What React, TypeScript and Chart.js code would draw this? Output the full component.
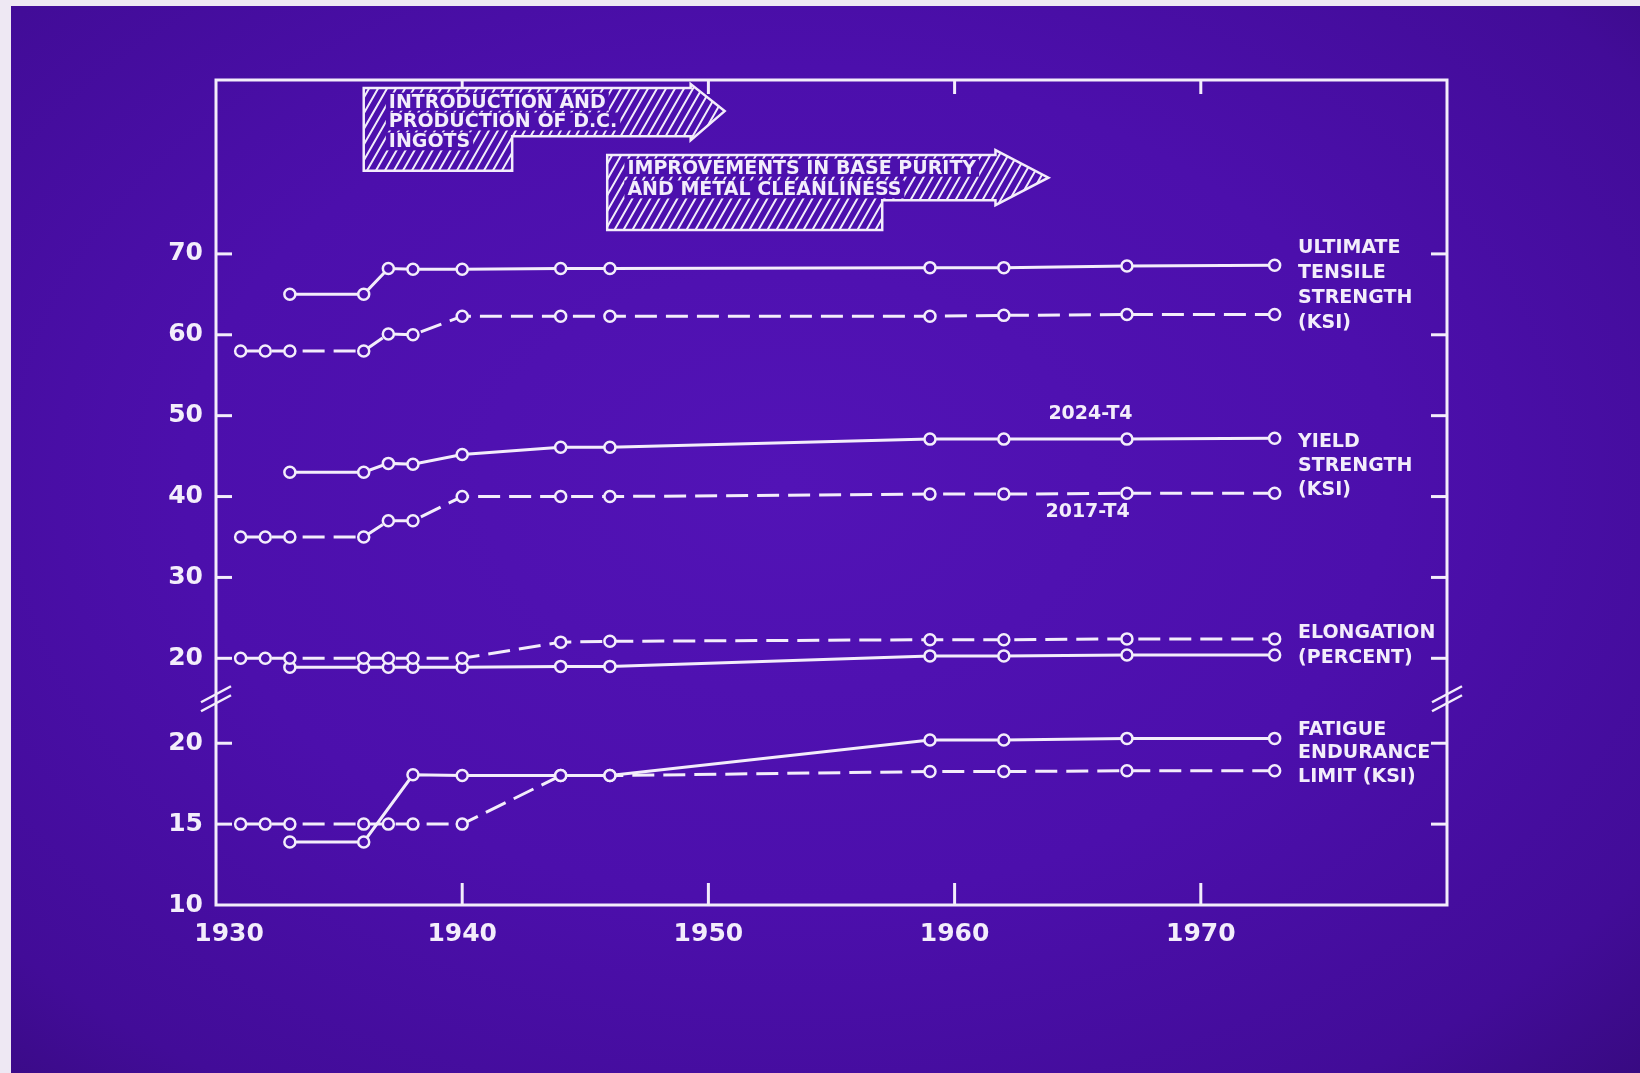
import React, { useEffect, useRef } from 'react';
import { Chart, registerables } from 'chart.js';

Chart.register(...registerables);

// ---------------- data ----------------
const YEARS_2017 = [1931, 1932, 1933, 1936, 1937, 1938, 1940, 1944, 1946, 1959, 1962, 1967, 1973];
const YEARS_2024 = [1933, 1936, 1937, 1938, 1940, 1944, 1946, 1959, 1962, 1967, 1973];
const YEARS_FATIGUE_2024 = [1933, 1936, 1938, 1940, 1944, 1946, 1959, 1962, 1967, 1973];

const UTS_2024 = [65, 65, 68.2, 68.1, 68.1, 68.2, 68.2, 68.3, 68.3, 68.5, 68.6];
const UTS_2017 = [58, 58, 58, 58, 60.1, 60, 62.3, 62.3, 62.3, 62.3, 62.4, 62.5, 62.5];
const YS_2024 = [43, 43, 44.1, 44, 45.2, 46.1, 46.1, 47.1, 47.1, 47.1, 47.2];
const YS_2017 = [35, 35, 35, 35, 37, 37, 40, 40, 40, 40.3, 40.3, 40.4, 40.4];
const ELONG_2024 = [18.9, 18.9, 18.9, 18.9, 18.9, 19, 19, 20.3, 20.3, 20.4, 20.4];
const ELONG_2017 = [20, 20, 20, 20, 20, 20, 20, 22, 22.1, 22.3, 22.3, 22.4, 22.4];
const FATIGUE_2024 = [13.9, 13.9, 18.05, 18, 18, 18, 20.2, 20.2, 20.3, 20.3];
const FATIGUE_2017 = [15, 15, 15, 15, 15, 15, 15, 18, 18, 18.25, 18.25, 18.3, 18.3];

const X_TICKS = [1930, 1940, 1950, 1960, 1970];
const Y_TICKS_UPPER = [20, 30, 40, 50, 60, 70];
const Y_TICKS_LOWER = [10, 15, 20];

const RIGHT_LABELS = [
  ['ULTIMATE', 'TENSILE', 'STRENGTH', '(KSI)'],
  ['YIELD', 'STRENGTH', '(KSI)'],
  ['ELONGATION', '(PERCENT)'],
  ['FATIGUE', 'ENDURANCE', 'LIMIT (KSI)'],
];
const ALLOY_LABELS = ['2024-T4', '2017-T4'];
const ARROW_TEXTS = [
  ['INTRODUCTION AND', 'PRODUCTION OF D.C.', 'INGOTS'],
  ['IMPROVEMENTS IN BASE PURITY', 'AND METAL CLEANLINESS'],
];

// ---------------- broken-axis mapping ----------------
// lower panel (fatigue): virtual = (real - 10) * 2 ; upper panel: virtual = real + 10.5
const UPPER_OFFSET = 10.5;
const LOWER_BASE = 10;
const LOWER_FACTOR = 2;
const BREAK_V = 25.5;
const Y_MAX_V = 102;
const upperV = (v: number) => v + UPPER_OFFSET;
const lowerV = (v: number) => (v - LOWER_BASE) * LOWER_FACTOR;

const INK = '#f3edfb';
const BG = '#4c10ad';
const FONT = "'DejaVu Sans', 'Noto Sans', sans-serif";

const toPts = (xs: number[], ys: number[], f: (v: number) => number) =>
  xs.map((x, i) => ({ x, y: f(ys[i]) }));

// annotation placement in data units (years / virtual y)
const ARROWS = [
  { left: 1936.0, rectRight: 1942.03, headBase: 1949.28, tip: 1950.66, top: 101.0, shaftBottom: 95.05, rectBottom: 90.79, headTop: 101.5, headBottom: 94.56, tipY: 98.15, textX: 1937.02, textY: [99.32, 96.87, 94.41] },
  { left: 1945.89, rectRight: 1957.06, headBase: 1961.66, tip: 1963.81, top: 92.73, shaftBottom: 87.14, rectBottom: 83.44, headTop: 93.33, headBottom: 86.53, tipY: 89.93, textX: 1946.71, textY: [91.16, 88.47] },
];
const RIGHT_LABEL_POS = [
  { v: 81.21, gap: 25 },
  { v: 57.29, gap: 24 },
  { v: 33.68, gap: 25 },
  { v: 21.63, gap: 23.5 },
];
const RIGHT_LABEL_X = 1973.95;
const ALLOY_POS = [
  { x: 1963.81, v: 60.69 },
  { x: 1963.69, v: 48.58 },
];

const decorPlugin = {
  id: 'decor',
  beforeDatasetsDraw(chart: any) {
    const { ctx, chartArea: a, scales } = chart;
    const x = scales.x, y = scales.y;
    ctx.save();
    ctx.strokeStyle = INK;
    ctx.lineWidth = 3;
    const line = (x1: number, y1: number, x2: number, y2: number) => {
      ctx.beginPath(); ctx.moveTo(x1, y1); ctx.lineTo(x2, y2); ctx.stroke();
    };
    ctx.strokeRect(a.left, a.top, a.right - a.left, a.bottom - a.top);
    for (const t of y.ticks) {
      if (t.value === 0) continue;
      const py = y.getPixelForValue(t.value);
      line(a.left, py, a.left + 16, py);
      line(a.right, py, a.right - 16, py);
    }
    for (const t of x.ticks) {
      if (t.value <= 1930 || t.value >= 1980) continue;
      const px = x.getPixelForValue(t.value);
      line(px, a.bottom, px, a.bottom - 22);
      line(px, a.top, px, a.top + 14);
    }
    const by = y.getPixelForValue(BREAK_V);
    ctx.lineWidth = 2.5;
    for (const bx of [a.left, a.right]) {
      for (const off of [-4.5, 4.5]) {
        line(bx - 15, by + off + 8, bx + 15, by + off - 8);
      }
    }
    ctx.restore();
  },
  afterDraw(chart: any) {
    const { ctx, scales } = chart;
    const x = scales.x, y = scales.y;
    const X = (v: number) => x.getPixelForValue(v);
    const Y = (v: number) => y.getPixelForValue(v);
    ctx.save();
    ctx.font = `bold 19px ${FONT}`;
    ctx.textBaseline = 'middle';
    ctx.textAlign = 'left';

    ARROWS.forEach((ar, i) => {
      const pts = [
        [X(ar.left), Y(ar.top)], [X(ar.headBase), Y(ar.top)], [X(ar.headBase), Y(ar.headTop)],
        [X(ar.tip), Y(ar.tipY)], [X(ar.headBase), Y(ar.headBottom)], [X(ar.headBase), Y(ar.shaftBottom)],
        [X(ar.rectRight), Y(ar.shaftBottom)], [X(ar.rectRight), Y(ar.rectBottom)], [X(ar.left), Y(ar.rectBottom)],
      ];
      const path = () => {
        ctx.beginPath();
        pts.forEach((p, k) => (k ? ctx.lineTo(p[0], p[1]) : ctx.moveTo(p[0], p[1])));
        ctx.closePath();
      };
      ctx.save();
      path();
      ctx.fillStyle = BG;
      ctx.fill();
      ctx.clip();
      const minX = X(ar.left), maxX = X(ar.tip), minY = Y(ar.headTop), maxY = Y(ar.rectBottom);
      const slant = (maxY - minY) * 0.6;
      ctx.beginPath();
      for (let k = minX - slant; k < maxX + 10; k += 9) {
        ctx.moveTo(k, maxY + 2);
        ctx.lineTo(k + slant, minY - 2);
      }
      ctx.lineWidth = 2;
      ctx.strokeStyle = INK;
      ctx.stroke();
      ARROW_TEXTS[i].forEach((txt, j) => {
        const tx = X(ar.textX), ty = Y(ar.textY[j]);
        const w = ctx.measureText(txt).width;
        ctx.fillStyle = BG;
        ctx.fillRect(tx - 3, ty - 9, w + 6, 18);
        ctx.fillStyle = INK;
        ctx.fillText(txt, tx, ty + 1);
      });
      ctx.restore();
      path();
      ctx.lineWidth = 2.5;
      ctx.strokeStyle = INK;
      ctx.stroke();
    });

    ctx.fillStyle = INK;
    RIGHT_LABELS.forEach((lines, i) => {
      const pos = RIGHT_LABEL_POS[i];
      lines.forEach((txt, j) => {
        ctx.fillText(txt, X(RIGHT_LABEL_X), Y(pos.v) + j * pos.gap);
      });
    });
    ALLOY_LABELS.forEach((txt, i) => {
      ctx.fillText(txt, X(ALLOY_POS[i].x), Y(ALLOY_POS[i].v));
    });
    ctx.restore();
  },
};

export default function App() {
  const ref = useRef<HTMLCanvasElement | null>(null);

  useEffect(() => {
    document.body.style.margin = '0';
    if (!ref.current) return;

    const yLabelMap = new Map<number, string>();
    Y_TICKS_LOWER.forEach((v) => yLabelMap.set(lowerV(v), String(v)));
    Y_TICKS_UPPER.forEach((v) => yLabelMap.set(upperV(v), String(v)));
    const yTickValues = Array.from(yLabelMap.keys());

    const solid = (data: any[]) => ({
      data, borderColor: INK, borderWidth: 3, tension: 0, fill: false,
      pointRadius: 5.5, pointBorderWidth: 2.5, pointBackgroundColor: BG, pointBorderColor: INK,
    });
    const dashed = (data: any[]) => ({ ...solid(data), borderDash: [22, 9] });

    const chart = new Chart(ref.current, {
      type: 'line',
      data: {
        datasets: [
          { label: 'UTS 2017-T4', ...dashed(toPts(YEARS_2017, UTS_2017, upperV)) },
          { label: 'UTS 2024-T4', ...solid(toPts(YEARS_2024, UTS_2024, upperV)) },
          { label: 'YS 2017-T4', ...dashed(toPts(YEARS_2017, YS_2017, upperV)) },
          { label: 'YS 2024-T4', ...solid(toPts(YEARS_2024, YS_2024, upperV)) },
          { label: 'Elongation 2017-T4', ...dashed(toPts(YEARS_2017, ELONG_2017, upperV)) },
          { label: 'Elongation 2024-T4', ...solid(toPts(YEARS_2024, ELONG_2024, upperV)) },
          { label: 'Fatigue 2017-T4', ...dashed(toPts(YEARS_2017, FATIGUE_2017, lowerV)) },
          { label: 'Fatigue 2024-T4', ...solid(toPts(YEARS_FATIGUE_2024, FATIGUE_2024, lowerV)) },
        ] as any,
      },
      options: {
        animation: false,
        responsive: false,
        layout: { padding: { top: 80, right: 193, left: 0, bottom: 0 } },
        plugins: { legend: { display: false }, tooltip: { enabled: false } },
        scales: {
          x: {
            type: 'linear',
            min: 1930,
            max: 1980,
            afterBuildTicks: (s: any) => { s.ticks = [...X_TICKS, 1980].map((v) => ({ value: v })); },
            afterFit: (s: any) => { s.height = 168; },
            grid: { display: false, drawTicks: false },
            border: { display: false },
            ticks: {
              autoSkip: false, maxRotation: 0, padding: 14, color: INK,
              font: { family: FONT, weight: 'bold', size: 25 },
              callback: (v: any) => (X_TICKS.includes(v) ? (v === 1930 ? '   1930' : String(v)) : ''),
            },
          },
          y: {
            type: 'linear',
            min: 0,
            max: Y_MAX_V,
            afterBuildTicks: (s: any) => { s.ticks = yTickValues.map((v) => ({ value: v })); },
            afterFit: (s: any) => { s.width = 216; },
            grid: { display: false, drawTicks: false },
            border: { display: false },
            ticks: {
              autoSkip: false, padding: 13, color: INK,
              font: { family: FONT, weight: 'bold', size: 25 },
              callback: (v: any) => yLabelMap.get(v) ?? '',
            },
          },
        },
      } as any,
      plugins: [decorPlugin],
    });
    return () => chart.destroy();
  }, []);

  return (
    <div
      style={{
        position: 'relative', width: 1640, height: 1073, overflow: 'hidden',
        background: 'radial-gradient(ellipse at 48% 45%, #5213b6 0%, #4c0fac 50%, #420c98 85%, #380a82 100%)',
      }}
    >
      <canvas ref={ref} width={1640} height={1073} style={{ position: 'absolute', left: 0, top: 0 }} />
      <div style={{ position: 'absolute', left: 0, top: 0, width: 1640, height: 6, background: '#eee8f3' }} />
      <div style={{ position: 'absolute', left: 0, top: 0, width: 11, height: 1073, background: '#eee8f3' }} />
    </div>
  );
}
